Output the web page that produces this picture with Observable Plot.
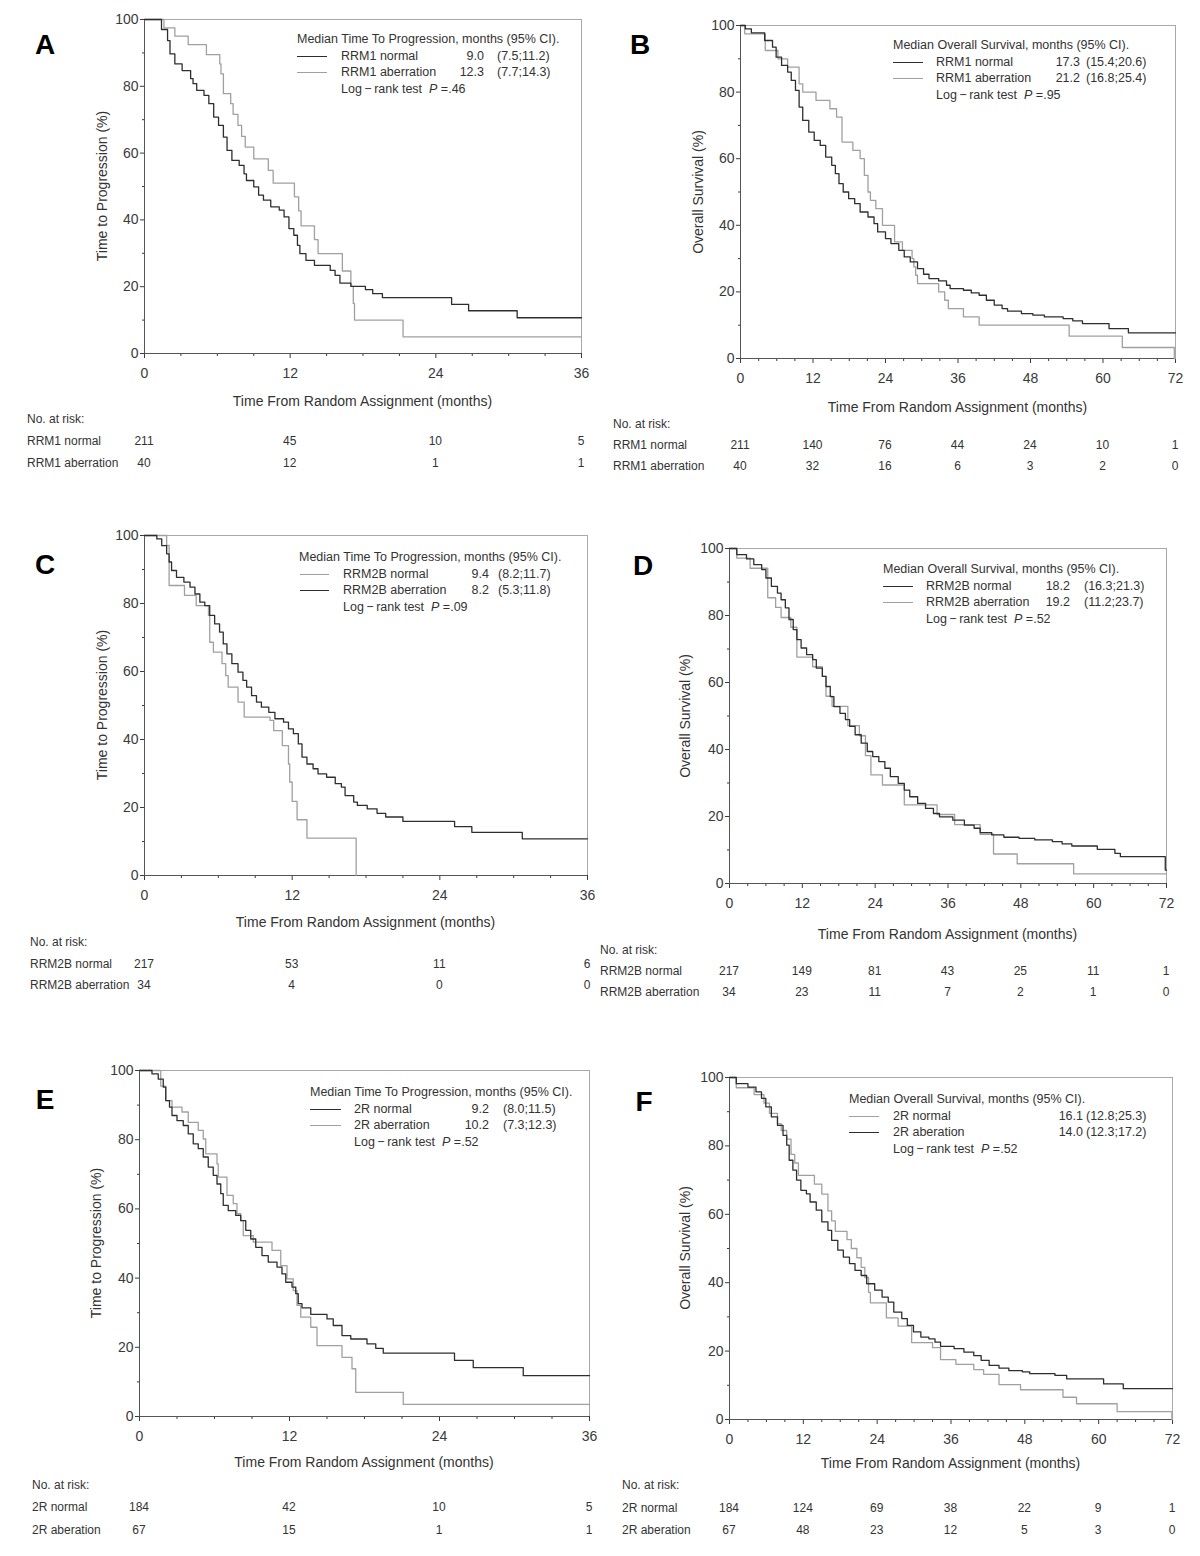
<!DOCTYPE html>
<html><head><meta charset="utf-8">
<script src="https://cdn.jsdelivr.net/npm/d3@7"></script>
<script src="https://cdn.jsdelivr.net/npm/@observablehq/plot@0.6"></script>
<style>
body{margin:0;background:#fff;}
#page{position:relative;width:1200px;height:1556px;overflow:hidden;font-family:"Liberation Sans",Arial,Helvetica,sans-serif;color:#333;}
.t{position:absolute;white-space:nowrap;line-height:1;}
.ln{position:absolute;height:0;}
</style></head><body><div id="page"></div>
<script>
// ---------- DATA ----------
const ticks36 = [0, 12, 24, 36];
const ticks72 = [0, 12, 24, 36, 48, 60, 72];
const yTicks = [0, 20, 40, 60, 80, 100];

// Panel A: TTP, RRM1
const aNormT = [0,1.4,1.9,2.1,2.5,3.1,3.8,4.0,4.3,4.9,5.3,5.7,6.1,6.5,6.8,7.2,7.8,8.2,8.4,9.0,9.4,9.8,10.4,11.1,11.5,11.9,12.3,12.6,12.8,13.3,14.0,15.3,15.7,16.1,17.0,18.2,18.8,19.6,25.3,26.7,30.7,36];
const aNormS = [100,97,93.7,89.7,86.7,84.7,82.3,80.8,78.8,77.3,74.8,70.8,68.3,64.8,60.8,57.8,56.3,53.8,51.8,49.9,47.4,45.9,43.9,42.9,40.9,37.4,35.4,32.4,29.9,27.9,26.4,24.9,23.4,21.1,20.1,19.1,17.9,16.7,14.7,12.8,10.7,10.7];
const aAberT = [0,1.6,2.5,3.6,5.1,6.2,6.3,6.5,7.1,7.3,7.7,8.0,8.3,9.0,10.2,10.6,12.35,12.7,12.9,14.0,14.3,16.3,17.0,17.2,17.3,21.3,36];
const aAberS = [100,97.5,95,92.5,89.5,86.7,83.7,77.8,74.8,71.6,68.3,65,61.8,58.3,54.8,51,46.9,42.7,38.2,34.1,29.9,24.7,20.1,15,10,5,5];
const aRiskNormal = [211, 45, 10, 5];
const aRiskAber = [40, 12, 1, 1];

// Panel B: OS, RRM1
const bNormT = [0,0.8,1.8,4.0,5.3,5.9,6.8,7.8,8.4,9.1,9.7,10.3,11.3,12.2,13.2,14.1,15.1,15.7,16.3,17.0,17.9,18.9,19.8,21.1,22.1,22.7,24.0,24.9,26.2,27.1,28.1,29.3,30.3,31.2,32.8,34.1,34.7,36.9,38.2,39.5,40.7,42.0,43.3,44.2,46.5,48.4,50.3,53.4,55.0,56.6,61.0,64.2,72];
const bNormS = [100,99,97.8,95.5,93.5,90.5,88,86,83.5,80.5,75.5,71.5,68,65.5,64,60.5,58,55.5,52.5,50,48,46.5,44,42.5,40.5,38,36,34.5,32.5,30.5,29,27,25.3,24,23.3,22,21,20.5,19.7,19,17.5,16,15,14.2,13.5,13,12.5,12,11.3,10.5,9,7.7,7.7];
const bAberT = [0,0.7,4.1,6.2,7.8,9.7,10.3,12.5,14.8,15.9,16.8,18.6,19.8,20.5,21.1,21.5,22.4,23.5,25.5,26.8,28.4,28.7,29.0,29.3,32.8,33.8,34.4,36.9,39.5,54.4,63.2,71.8,72];
const bAberS = [100,97.5,92.5,90,87.5,82.5,80,77.5,75,72.5,65,62.5,60,55,50,47.5,45,40,35,32.5,30,27.5,25,22.5,20,17.5,15,12.5,10,6.7,3.3,0,0];
const bRiskNormal = [211, 140, 76, 44, 24, 10, 1];
const bRiskAber = [40, 32, 16, 6, 3, 2, 0];

// Panel C: TTP, RRM2B
const cNormT = [0,1.0,1.4,1.8,2.0,2.2,2.6,3.2,3.7,4.1,4.5,4.9,5.3,5.7,6.1,6.4,6.7,7.1,7.6,8.0,8.3,8.7,9.1,9.5,10.1,10.6,11.3,11.7,12.1,12.5,12.8,13.2,13.7,14.1,14.8,15.5,16.0,16.3,17.0,17.3,18.1,18.9,19.6,21.0,25.2,26.6,30.7,36];
const cNormS = [100,99,97,94.6,92.2,89.7,87.7,86.3,84.8,82.8,80.4,79.4,76.5,74,71.6,68.1,65.2,62.3,59.8,57.4,55.4,52.9,51,49.5,48,46.1,45.1,43.1,41.7,38.7,34.8,32.8,31.4,29.9,28.9,27,26,23.5,21.6,20.6,19.6,18.3,17.2,15.9,14.4,12.7,10.8,10.8];
const cAberT = [0,1.8,2.0,3.25,4.2,5.2,5.3,5.6,6.3,6.6,6.8,7.6,8.1,10.2,10.5,11.2,11.7,11.8,12.0,12.4,13.2,17.2];
const cAberS = [100,97.1,85.3,82.4,79.4,76.5,68.6,65.7,62.3,58.8,55.4,51,46.6,45.6,42.6,38.2,32.8,27.5,21.8,16.4,11,0];
const cRiskNormal = [217, 53, 11, 6];
const cRiskAber = [34, 4, 0, 0];

// Panel D: OS, RRM2B
const dNormT = [0,1.2,2.8,4.0,5.3,6.0,6.9,7.9,8.5,9.2,9.8,10.5,11.1,11.8,12.7,13.7,14.3,15.3,15.9,16.6,17.2,18.2,19.1,19.8,20.7,21.7,22.7,23.6,24.6,25.6,26.5,27.8,28.8,29.7,31.0,32.3,33.6,34.6,36.8,38.7,40.3,41.3,43.2,45.2,47.7,50.3,53.2,54.8,56.4,60.6,63.5,64.4,71.8,72];
const dNormS = [100,98.2,96.9,95.2,93.7,91.2,88.7,86.7,84.7,82.3,78.8,75.8,72.8,70.3,68.3,66.8,64.3,61.8,58.8,55.8,52.8,50.8,48.9,46.9,44.4,41.9,39.4,37.9,36.4,34.4,31.9,29.9,27.9,25.9,23.9,22.4,20.9,19.9,18.9,17.4,16.5,15.2,14.5,13.8,13.5,13.0,12.5,11.8,11.2,10.2,9.0,8.0,4.0,4.0];
const dAberT = [0,1.2,3.4,6.3,7.6,8.5,10.1,11.1,13.7,15.3,15.9,16.9,19.5,21.4,22.4,23.3,25.2,28.8,34.2,37.1,41.3,43.5,47.4,56.7,72];
const dAberS = [100,97.1,94.1,85.3,82.4,79.4,76.5,67.6,64.7,61.8,55.9,52.9,47.1,44.1,38.2,32.4,29.4,23.5,20.6,17.6,14.7,8.8,5.9,2.9,2.9];
const dRiskNormal = [217, 149, 81, 43, 25, 11, 1];
const dRiskAber = [34, 23, 11, 7, 2, 1, 0];

// Panel E: TTP, 2R
const eNormT = [0,1.0,1.5,1.9,2.1,2.4,2.6,3.0,3.5,3.9,4.3,4.7,5.1,5.5,5.9,6.2,6.5,6.7,7.1,7.7,8.1,8.5,8.9,9.3,9.8,10.3,11.0,11.4,11.7,12.2,12.5,12.7,13.0,13.7,15.0,15.5,16.2,16.9,18.2,18.9,19.5,25.2,26.7,30.7,36];
const eNormS = [100,99,97.5,95.2,91.3,89.4,87,85.5,84.1,81.7,78.8,77.4,75,72.1,69.7,67.2,64.4,61,59.5,58.1,56.6,53.8,51.3,48.9,46.5,44.6,43.2,41.2,38.8,37.4,35.5,32.6,31.4,29.5,28.2,26.3,23.4,22.4,21,19.7,18.3,16.2,14.1,11.8,11.8];
const eAberT = [0,1.7,2.1,2.6,3.4,3.9,4.7,5.1,5.3,6.2,6.3,7.0,7.5,7.8,8.1,8.3,9.1,10.6,11.3,11.8,12.3,12.6,12.9,13.7,14.2,16.2,17.0,17.3,21.1,36];
const eAberS = [100,95.5,91.3,89.4,88,85,82.7,80.2,75.9,73,69.2,63.9,61.5,58.6,56.6,52.3,50.4,48,43.6,39.8,36.4,32.1,28.7,25.8,20.5,17.1,13.8,7.0,3.5,3.5];
const eRiskNormal = [184, 42, 10, 5];
const eRiskAber = [67, 15, 1, 1];

// Panel F: OS, 2R
const fNormT = [0,1.1,3.0,4.3,5.2,5.9,6.8,7.8,8.7,9.3,9.7,10.3,10.9,11.6,12.5,13.1,14.1,15.0,16.0,16.6,17.6,18.5,19.5,20.4,21.4,22.3,23.6,24.8,25.8,26.7,28.0,28.9,29.9,31.1,32.4,33.4,34.3,36.5,38.1,39.7,40.9,42.2,43.8,45.4,47.6,48.8,52.9,54.8,60.8,64.0,72];
const fNormS = [100,98.2,97.2,95.8,93.9,91.4,88.5,86,83.1,80.2,75.8,72.9,70,67,66,63.6,61.2,57.8,55.3,52.4,49.5,47.5,45.6,43.6,42.1,39.7,37.8,35.8,34.3,31.4,29.5,27.5,25.6,24.1,23.6,22.6,21.4,20.7,19.7,18.7,17.3,15.8,15,14.3,13.9,13.4,12.9,11.9,10.4,9.0,9.0];
const fAberT = [0,1.1,4.0,5.6,6.5,7.8,8.4,9.3,10.0,10.6,11.2,13.8,15.0,16.0,16.6,17.2,19.1,19.8,20.7,21.4,22.0,22.6,22.9,25.5,27.4,29.6,33.0,34.3,36.8,39.7,41.3,43.8,47.3,54.2,56.4,63.0,71.9,72];
const fAberS = [100,97,95,92.5,89.5,86.5,84.5,82,77.5,75,71.4,68.8,65.9,61,58.1,55,52.6,50,47.3,44.5,41.5,37.2,34.1,29.7,27.3,22.5,21,17.5,16.1,14.6,13.2,10.2,8.7,6.5,4.6,2.3,0,0];
const fRiskNormal = [184, 124, 69, 38, 22, 9, 1];
const fRiskAber = [67, 48, 23, 12, 5, 3, 0];

// ---------- DRAWING ----------
const DARK = "#2e2e2e", LIGHT = "#a0a0a0";
const page = document.getElementById("page");
const FONT = '"Liberation Sans", Arial, Helvetica, sans-serif';

function txt(x, y, html, o = {}) {
  const el = document.createElement("div");
  el.className = "t";
  el.style.left = x + "px";
  el.style.top = y + "px";
  el.style.fontSize = (o.size || 13) + "px";
  if (o.weight) el.style.fontWeight = o.weight;
  if (o.color) el.style.color = o.color;
  const tx = o.anchor === "middle" ? "-50%" : o.anchor === "end" ? "-100%" : "0";
  el.style.transform = `translate(${tx},-50%)` + (o.rotate ? ` rotate(${o.rotate}deg)` : "");
  el.innerHTML = html;
  page.appendChild(el);
}
function seg(x0, x1, y, color) {
  const el = document.createElement("div");
  el.className = "ln";
  el.style.left = x0 + "px";
  el.style.top = y + "px";
  el.style.width = (x1 - x0) + "px";
  el.style.borderTop = `1.4px solid ${color}`;
  page.appendChild(el);
}

function panel(p) {
  const mL = 44, mR = 14, mT = 8, mB = 34;
  const W = p.frame.r - p.frame.l, H = p.frame.b - p.frame.t;
  const minor = d3.range(0, p.xmax + 0.1, 3).filter(v => v % 12 !== 0);
  const lines = p.curves.map(c =>
    Plot.line(c.t.map((t, i) => ({t, s: c.s[i]})),
      {x: "t", y: "s", curve: "step-after", stroke: c.color, strokeWidth: 1.3}));
  const chart = Plot.plot({
    width: W + mL + mR, height: H + mT + mB,
    marginLeft: mL, marginRight: mR, marginTop: mT, marginBottom: mB,
    x: {domain: [0, p.xmax], label: null},
    y: {domain: [0, 100], label: null},
    style: {fontFamily: FONT, fontSize: "14px", color: "#3a3a3a", background: "none", overflow: "visible"},
    marks: [
      Plot.frame({stroke: "#a8a8a8"}),
      Plot.axisX(minor, {tickSize: 3, tickFormat: () => ""}),
      Plot.axisX(p.xTicks, {tickSize: 5, tickPadding: 10, fontSize: 14}),
      Plot.axisY([10, 30, 50, 70, 90], {tickSize: 2, tickFormat: () => ""}),
      Plot.axisY(yTicks, {tickSize: 4, tickPadding: 2, fontSize: 14}),
      Plot.ruleY([0], {stroke: "#555"}),
      Plot.ruleX([0], {stroke: "#555"}),
      ...lines
    ]
  });
  const left = p.frame.l - mL, top = p.frame.t - mT;
  chart.style.position = "absolute";
  chart.style.left = left + "px";
  chart.style.top = top + "px";
  page.appendChild(chart);
  const xs = chart.scale("x");

  // panel letter
  txt(p.letter[0], p.letter[1], p.letterText, {size: 28, weight: "bold", anchor: "middle", color: "#000"});
  // axis titles
  txt(p.ylabelX, (p.frame.t + p.frame.b) / 2, p.ylabel, {size: 14, anchor: "middle", rotate: -90});
  txt((p.frame.l + p.frame.r) / 2, p.xlabelY, "Time From Random Assignment (months)", {size: 14, anchor: "middle"});

  // legend
  const L = p.legend;
  txt(L.x, L.y0, L.header, {size: 12.5});
  L.rows.forEach((r, i) => {
    const y = L.y0 + L.dy * (i + 1);
    seg(L.lineX0, L.lineX1, y, r.color);
    txt(L.nameX, y, r.name, {size: 12.5});
    txt(L.valRight, y, r.val, {size: 12.5, anchor: "end"});
    txt(L.ciX, y, r.ci, {size: 12.5});
  });
  txt(L.nameX, L.y0 + L.dy * 3, `Log&thinsp;−&thinsp;rank test&nbsp; <i>P</i> =${p.pval}`, {size: 12.5});

  // at-risk table
  const R = p.risk;
  txt(R.labelX, R.titleY, "No. at risk:", {size: 12});
  R.rows.forEach((row, i) => {
    txt(R.labelX, R.rowsY[i], row.name, {size: 12});
    row.values.forEach((v, j) => {
      txt(left + xs.apply(p.xTicks[j]), R.rowsY[i], String(v), {size: 12, anchor: "middle"});
    });
  });
}

const TTP = "Median Time To Progression, months (95% CI).";
const OS = "Median Overall Survival, months (95% CI).";

panel({
  letterText: "A", letter: [45, 45], xmax: 36, xTicks: ticks36,
  frame: {l: 144, r: 581, t: 19, b: 353},
  ylabel: "Time to Progression (%)", ylabelX: 102, xlabelY: 401,
  curves: [{t: aAberT, s: aAberS, color: LIGHT}, {t: aNormT, s: aNormS, color: DARK}],
  legend: {header: TTP, x: 297, y0: 39, dy: 16.7, lineX0: 297, lineX1: 327, nameX: 341, valRight: 484, ciX: 497,
    rows: [{name: "RRM1 normal", val: "9.0", ci: "(7.5;11.2)", color: DARK},
           {name: "RRM1 aberration", val: "12.3", ci: "(7.7;14.3)", color: LIGHT}]},
  pval: ".46",
  risk: {labelX: 27, titleY: 419, rowsY: [441, 463],
    rows: [{name: "RRM1 normal", values: aRiskNormal}, {name: "RRM1 aberration", values: aRiskAber}]}
});

panel({
  letterText: "B", letter: [640, 45], xmax: 72, xTicks: ticks72,
  frame: {l: 740, r: 1175, t: 25, b: 358},
  ylabel: "Overall Survival (%)", ylabelX: 698, xlabelY: 407,
  curves: [{t: bAberT, s: bAberS, color: LIGHT}, {t: bNormT, s: bNormS, color: DARK}],
  legend: {header: OS, x: 893, y0: 45, dy: 16.7, lineX0: 893, lineX1: 923, nameX: 936, valRight: 1080, ciX: 1086,
    rows: [{name: "RRM1 normal", val: "17.3", ci: "(15.4;20.6)", color: DARK},
           {name: "RRM1 aberration", val: "21.2", ci: "(16.8;25.4)", color: LIGHT}]},
  pval: ".95",
  risk: {labelX: 613, titleY: 424, rowsY: [445, 466],
    rows: [{name: "RRM1 normal", values: bRiskNormal}, {name: "RRM1 aberration", values: bRiskAber}]}
});

panel({
  letterText: "C", letter: [45, 565], xmax: 36, xTicks: ticks36,
  frame: {l: 144, r: 587, t: 535, b: 875},
  ylabel: "Time to Progression (%)", ylabelX: 102, xlabelY: 922,
  curves: [{t: cAberT, s: cAberS, color: LIGHT}, {t: cNormT, s: cNormS, color: DARK}],
  legend: {header: TTP, x: 299, y0: 557, dy: 16.5, lineX0: 300, lineX1: 329, nameX: 343, valRight: 489, ciX: 498,
    rows: [{name: "RRM2B normal", val: "9.4", ci: "(8.2;11.7)", color: LIGHT},
           {name: "RRM2B aberration", val: "8.2", ci: "(5.3;11.8)", color: DARK}]},
  pval: ".09",
  risk: {labelX: 30, titleY: 942, rowsY: [964, 985],
    rows: [{name: "RRM2B normal", values: cRiskNormal}, {name: "RRM2B aberration", values: cRiskAber}]}
});

panel({
  letterText: "D", letter: [643, 566], xmax: 72, xTicks: ticks72,
  frame: {l: 729, r: 1166, t: 548, b: 883},
  ylabel: "Overall Survival (%)", ylabelX: 685, xlabelY: 934,
  curves: [{t: dAberT, s: dAberS, color: LIGHT}, {t: dNormT, s: dNormS, color: DARK}],
  legend: {header: OS, x: 883, y0: 569, dy: 16.5, lineX0: 883, lineX1: 913, nameX: 926, valRight: 1070, ciX: 1084,
    rows: [{name: "RRM2B normal", val: "18.2", ci: "(16.3;21.3)", color: DARK},
           {name: "RRM2B aberration", val: "19.2", ci: "(11.2;23.7)", color: LIGHT}]},
  pval: ".52",
  risk: {labelX: 600, titleY: 950, rowsY: [971, 992],
    rows: [{name: "RRM2B normal", values: dRiskNormal}, {name: "RRM2B aberration", values: dRiskAber}]}
});

panel({
  letterText: "E", letter: [45, 1100], xmax: 36, xTicks: ticks36,
  frame: {l: 139, r: 589, t: 1070, b: 1416},
  ylabel: "Time to Progression (%)", ylabelX: 96, xlabelY: 1462,
  curves: [{t: eAberT, s: eAberS, color: LIGHT}, {t: eNormT, s: eNormS, color: DARK}],
  legend: {header: TTP, x: 310, y0: 1092, dy: 16.7, lineX0: 310, lineX1: 341, nameX: 354, valRight: 489, ciX: 503,
    rows: [{name: "2R normal", val: "9.2", ci: "(8.0;11.5)", color: DARK},
           {name: "2R aberration", val: "10.2", ci: "(7.3;12.3)", color: LIGHT}]},
  pval: ".52",
  risk: {labelX: 32, titleY: 1485, rowsY: [1507, 1530],
    rows: [{name: "2R normal", values: eRiskNormal}, {name: "2R aberation", values: eRiskAber}]}
});

panel({
  letterText: "F", letter: [644, 1102], xmax: 72, xTicks: ticks72,
  frame: {l: 729, r: 1172, t: 1077, b: 1419},
  ylabel: "Overall Survival (%)", ylabelX: 685, xlabelY: 1463,
  curves: [{t: fAberT, s: fAberS, color: LIGHT}, {t: fNormT, s: fNormS, color: DARK}],
  legend: {header: OS, x: 849, y0: 1099, dy: 16.5, lineX0: 849, lineX1: 879, nameX: 893, valRight: 1083, ciX: 1086,
    rows: [{name: "2R normal", val: "16.1", ci: "(12.8;25.3)", color: LIGHT},
           {name: "2R aberation", val: "14.0", ci: "(12.3;17.2)", color: DARK}]},
  pval: ".52",
  risk: {labelX: 622, titleY: 1485, rowsY: [1508, 1530],
    rows: [{name: "2R normal", values: fRiskNormal}, {name: "2R aberation", values: fRiskAber}]}
});
</script>
</body></html>
